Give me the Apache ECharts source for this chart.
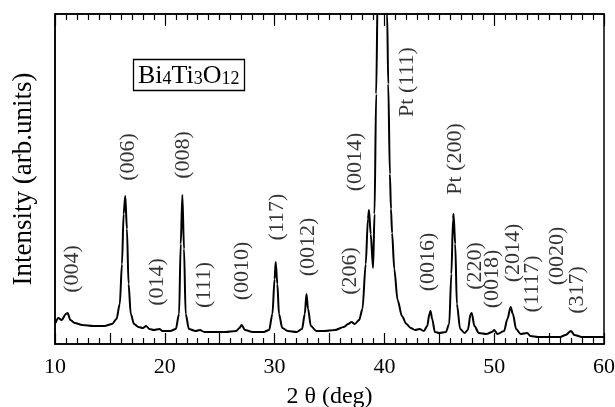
<!DOCTYPE html>
<html>
<head>
<meta charset="utf-8">
<script src="https://cdn.jsdelivr.net/npm/echarts@6/dist/echarts.min.js"></script>
<style>
  html, body { margin: 0; padding: 0; background: #fff; }
  #main { width: 615px; height: 407px; }
</style>
</head>
<body>
<div id="main"></div>
<script>
// XRD pattern, [2theta, intensity] (arb. units)
let pattern = [
  [10.05,21],[10.3,26],[10.6,24],[11.0,30],[11.15,31],[11.4,24],[11.8,21],[12.5,19],[13.5,18],[14.5,18],
  [15.2,20],[15.6,25],[15.9,40],[16.1,80],[16.25,130],[16.4,148],[16.55,115],[16.7,60],[16.9,30],[17.2,20],
  [17.6,17],[18.0,16],[18.3,18],[18.6,15],[19.0,14],[19.5,15],[19.8,13],[20.5,13],[21.0,15],[21.3,30],
  [21.45,100],[21.6,149],[21.75,95],[21.9,30],[22.2,15],[22.8,13],[23.2,14],[23.6,12],[24.5,12],[25.5,12],
  [26.5,13],[26.8,16],[27.0,19],[27.3,14],[28.0,12],[29.0,12],[29.5,14],[29.8,30],[30.0,65],[30.1,82],
  [30.25,60],[30.4,30],[30.7,16],[31.2,13],[32.0,12],[32.5,15],[32.75,30],[32.9,50],[33.05,35],[33.3,18],
  [33.8,13],[34.5,13],[35.5,14],[36.3,17],[36.7,20],[37.0,22],[37.3,20],[37.7,24],[38.0,35],[38.3,80],
  [38.5,125],[38.6,134],[38.75,110],[38.97,76],[39.1,130],[39.25,250],[39.4,360],[39.8,500],[40.0,520],[40.15,420],
  [40.25,330],[40.35,260],[40.5,170],[40.6,135],[40.7,111],[40.9,75],[41.2,44],[41.6,28],[42.0,20],[42.4,16],
  [42.8,14],[43.2,15],[43.6,13],
  [43.9,18],[44.1,30],[44.2,33],[44.35,25],[44.6,12],[45.0,11],[45.6,12],[45.9,20],[46.1,70],[46.25,125],
  [46.3,130],[46.45,100],[46.6,40],[46.9,15],[47.3,11],[47.6,14],[47.85,30],[47.95,31],[48.2,18],[48.6,11],
  [49.3,10],[49.8,12],[50.0,14],[50.3,10],[50.9,13],[51.2,25],[51.5,37],[51.7,30],[52.0,15],[52.4,10],
  [53.0,11],[53.3,8],[54.0,7],[55.0,7],[56.0,7],[56.5,9],[57.0,13],[57.3,9],[58.0,7],[59.0,7],[60.0,7]
];

// peak labels and where their centres sit
let peakNames = ['(004)','(006)','(008)','(014)','(111)','(0010)','(117)','(0012)','(206)','(0014)',
  'Pt (111)','Pt (200)','(0016)','(220)','(0018)','(2014)','(1117)','(0020)','(317)'];
let peakX = [11.55,16.65,21.66,19.29,23.57,27.03,30.22,33.04,36.87,37.32,
  42.06,46.43,43.97,48.25,49.80,51.71,53.44,55.72,57.54];
let peakY = [75,187,189,62,59,73,127,97,73,182,
  262,185,82,78,65,91,60,88,54];

let serif = '"Liberation Serif", "DejaVu Serif", serif';

let labelPts = peakNames.map(function (n, i) {
  return { name: n, value: [peakX[i], peakY[i]] };
});

let myChart = echarts.init(document.getElementById('main'));

let option = {
  animation: false,
  backgroundColor: '#fff',
  title: {
    text: '{a|Bi}{s|4}{a|Ti}{s|3}{a|O}{s|12}',
    left: 133,
    top: 59,
    borderColor: '#000',
    borderWidth: 1.3,
    padding: [4, 5, 2, 5],
    textStyle: {
      fontWeight: 'normal',
      rich: {
        a: { fontFamily: serif, fontSize: 26, fontWeight: 'normal', color: '#000', verticalAlign: 'bottom' },
        s: { fontFamily: serif, fontSize: 18, fontWeight: 'normal', color: '#000', verticalAlign: 'bottom', padding: [0, 0, 1, 0] }
      }
    }
  },
  grid: {
    left: 55, right: 11, top: 14, bottom: 63,
    outerBoundsMode: 'none',
    show: true, borderColor: '#000', borderWidth: 1.5, backgroundColor: 'transparent'
  },
  xAxis: [{
    type: 'value', min: 10, max: 60, interval: 5,
    name: '2 θ (deg)', nameLocation: 'middle', nameGap: 41,
    nameTextStyle: { fontFamily: serif, fontSize: 24, color: '#000' },
    axisLine: { lineStyle: { color: '#000', width: 1.5 } },
    axisTick: { inside: true, length: 11, lineStyle: { color: '#000', width: 1.2 } },
    minorTick: { show: true, splitNumber: 5, length: 6, lineStyle: { color: '#000', width: 1.2 } },
    splitLine: { show: false },
    axisLabel: {
      fontFamily: serif, fontSize: 22, color: '#000', margin: 12,
      formatter: function (v) { return v % 10 === 0 ? String(v) : ''; }
    }
  }, {
    type: 'value', min: 10, max: 60, interval: 10, position: 'top',
    axisLine: { lineStyle: { color: '#000', width: 1.5 } },
    axisTick: { inside: true, length: 12, lineStyle: { color: '#000', width: 1.2 } },
    minorTick: { show: true, splitNumber: 10, length: 6, lineStyle: { color: '#000', width: 1.2 } },
    splitLine: { show: false },
    axisLabel: { show: false }
  }],
  yAxis: {
    type: 'value', min: 0, max: 330,
    name: 'Intensity (arb.units)', nameLocation: 'middle', nameGap: 18,
    nameTextStyle: { fontFamily: serif, fontSize: 27, color: '#000' },
    axisLine: { lineStyle: { color: '#000', width: 1.5 } },
    axisTick: { show: false },
    axisLabel: { show: false },
    splitLine: { show: false }
  },
  series: [{
    type: 'line',
    data: pattern,
    showSymbol: false,
    smooth: 0.3,
    smoothMonotone: 'x',
    clip: true,
    lineStyle: { color: '#000', width: 2 }
  }, {
    type: 'scatter',
    data: labelPts,
    symbolSize: 1,
    itemStyle: { color: 'rgba(0,0,0,0)' },
    label: {
      show: true, position: 'inside', rotate: 90,
      formatter: '{b}',
      fontFamily: serif, fontSize: 22, color: '#000'
    }
  }]
};

myChart.setOption(option);
</script>
</body>
</html>
